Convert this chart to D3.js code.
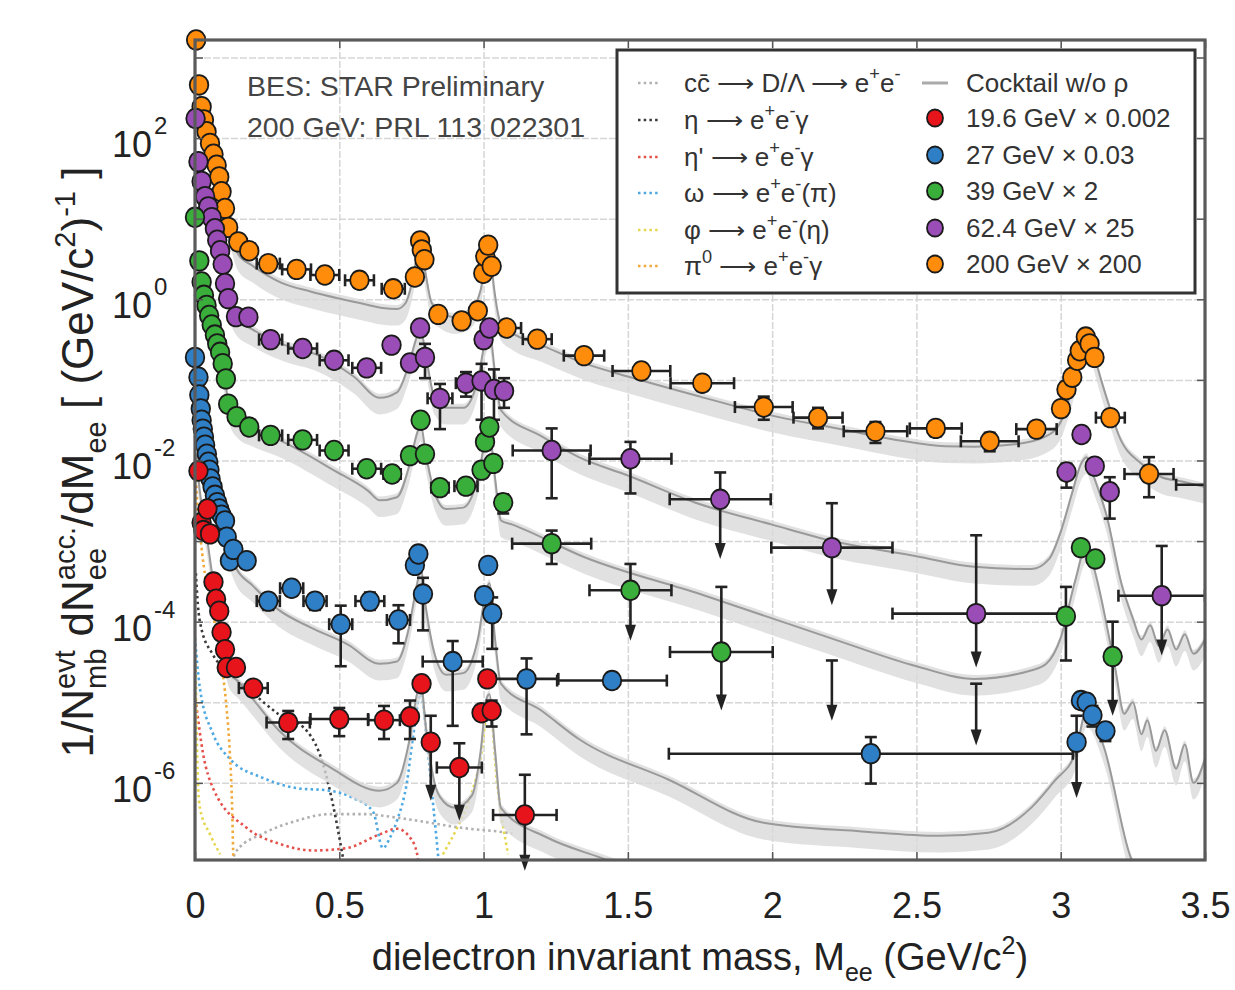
<!DOCTYPE html>
<html><head><meta charset="utf-8">
<script src="https://cdn.jsdelivr.net/npm/d3@7"></script>
<style>
body{margin:0;background:#fff}
svg text{font-family:"Liberation Sans",Arial,Helvetica,sans-serif}
</style>
</head><body>
<svg id="c" width="1235" height="990"></svg>
<script>
// ---------------- DATA ----------------
const xTicks = [0,0.5,1,1.5,2,2.5,3,3.5];
const xTickLabels = ["0","0.5","1","1.5","2","2.5","3","3.5"];
const yTickExp = [2,0,-2,-4,-6];
const yGridExp = [3,2,1,0,-1,-2,-3,-4,-5,-6];

// rows: [M, value, xErr, low, high, upperLimit]
const s200 = [
[0.004,1650],[0.014,457],[0.023,245],[0.031,168],[0.040,120],[0.052,86],[0.064,63],[0.075,46],[0.084,33],[0.092,21.6],[0.104,13.4],[0.115,7.8],[0.150,5.15],[0.188,4.0],
[0.254,2.77,0.04,2.5,3.05],[0.352,2.35,0.05,2.1,2.6],[0.450,2.0,0.05,1.8,2.2],[0.570,1.72,0.05,1.55,1.9],[0.687,1.35,0.04,1.2,1.5],
[0.762,1.89],[0.780,5.3],[0.786,4.1],[0.795,3.1],[0.843,0.65,0.02],[0.924,0.54,0.02],[0.980,0.72],
[0.999,2.1],[1.006,3.4],[1.016,4.7],[1.028,2.57],
[1.080,0.44,0.05,0.40,0.49],[1.186,0.32,0.05,0.29,0.35],[1.348,0.20,0.07,0.18,0.22],[1.547,0.129,0.10,0.115,0.145],
[1.758,0.091,0.11,0.08,0.10],[1.971,0.046,0.10,0.032,0.062],[2.159,0.034,0.085,0.025,0.045],[2.358,0.023,0.11,0.0165,0.030],
[2.567,0.025,0.09,0.020,0.030],[2.754,0.0173,0.10,0.013,0.022],[2.916,0.0245,0.07,0.021,0.028],
[3.001,0.044],[3.020,0.076],[3.040,0.108],[3.057,0.175],[3.066,0.23],[3.087,0.34],[3.100,0.28],[3.117,0.19],
[3.172,0.034,0.05],[3.306,0.0068,0.085,0.0035,0.011],[3.55,0.005,0.15]
];
const s62 = [
[0.002,175],[0.012,51],[0.023,29],[0.035,18.8],[0.046,14],[0.058,10.3],[0.069,7.5],[0.077,5.4],[0.087,4.0],[0.096,2.72],[0.104,1.57],[0.115,1.02],[0.142,0.61],[0.185,0.60],
[0.262,0.316,0.04,0.29,0.345],[0.373,0.245,0.05,0.22,0.27],[0.482,0.175,0.05,0.155,0.195],[0.595,0.141,0.05,0.125,0.16],
[0.681,0.27],[0.745,0.162,0.02,0.14,0.18],[0.780,0.44],[0.797,0.19,0,0.105,0.28],
[0.849,0.059,0.043,0.0245,0.089],[0.939,0.091,0.035,0.062,0.125],[0.993,0.097,0,0.032,0.158],
[1.000,0.316],[1.020,0.44],[1.036,0.076,0,0.032,0.135],[1.071,0.073,0,0.045,0.105],
[1.236,0.0133,0.135,0.0034,0.025],[1.509,0.0105,0.142,0.0039,0.017],
[1.820,0.0033,0.175,6e-4,0.0071,1],[2.207,8.3e-4,0.21,1.6e-4,0.00295,1],[2.707,1.26e-4,0.29,2.7e-5,0.00118,1],
[3.020,0.0072,0,0.0046,0.0091],[3.072,0.021],[3.118,0.0085],[3.170,0.0041,0,0.0019,0.0062],
[3.350,2.1e-4,0.15,3.8e-5,8.7e-4,1]
];
const s39 = [
[0.000,10.4],[0.015,3.0],[0.023,1.64],[0.031,1.12],[0.040,0.84],[0.049,0.63],[0.058,0.48],[0.069,0.36],[0.077,0.28],[0.087,0.22],[0.096,0.159],[0.107,0.103],[0.115,0.050],[0.144,0.035],[0.188,0.026],
[0.262,0.0205,0.04],[0.373,0.018,0.05],[0.482,0.0133,0.05],[0.595,0.0079,0.05,0.0068,0.0092],[0.683,0.0068,0.03,0.0055,0.0082],
[0.745,0.0115],[0.782,0.0316],[0.797,0.012,0,0.0095,0.015],[0.849,0.0046,0.03],[0.939,0.0048,0.04],
[0.993,0.0076],[1.005,0.017],[1.020,0.026],[1.034,0.0092],[1.068,0.0030,0,0.0022,0.0038],
[1.236,9.3e-4,0.137,5.2e-4,1.35e-3],[1.509,2.45e-4,0.142,5.8e-5,5.2e-4,1],[1.824,4.2e-5,0.178,7.9e-6,2.7e-4,1],
[2.207,null,0,5.9e-6,3.3e-5,1],[2.707,null,0,2.9e-6,1.7e-5,1],
[3.018,1.17e-4,0,3.3e-5,2.7e-4],[3.070,8.3e-4],[3.120,6.0e-4],[3.180,3.7e-5,0,6.8e-6,1.0e-4,1]
];
const s27 = [
[0.000,0.19],[0.012,0.108],[0.015,0.065],[0.020,0.0437],[0.023,0.0316],[0.027,0.0245],[0.031,0.0195],[0.035,0.0155],[0.041,0.012],[0.046,0.0095],[0.050,0.0076],[0.054,0.0059],[0.061,0.0047],[0.069,0.0037],[0.077,0.0030],[0.084,0.0025],[0.092,0.0021],[0.104,0.00178],[0.110,0.00112],[0.121,5.7e-4],[0.133,7.9e-4],[0.179,5.7e-4,0.02],
[0.254,1.8e-4,0.04,1.4e-4,2.2e-4],[0.335,2.6e-4,0.04,2.1e-4,3.1e-4],[0.416,1.8e-4,0.04,1.4e-4,2.2e-4],[0.505,9.3e-5,0.04,2.8e-5,1.58e-4],
[0.606,1.8e-4,0.05,1.4e-4,2.3e-4],[0.705,1.05e-4,0.04,5.4e-5,1.6e-4],[0.762,5.0e-4],[0.774,6.9e-4],[0.790,2.2e-4,0,7.8e-5,3.5e-4],
[0.893,3.2e-5,0.104,5.1e-6,5.75e-5],[1.002,2.1e-4],[1.016,5.0e-4],[1.030,1.26e-4,0,4.6e-5,2.0e-4],
[1.149,1.95e-5,0.11,4.0e-6,3.5e-5],[1.445,1.86e-5,0.19,1.5e-5,2.3e-5],[2.342,2.3e-6,0.70,9.8e-7,3.7e-6],
[3.055,3.2e-6,0,6.5e-7,6.8e-6,1],[3.070,1.05e-5],[3.090,1.0e-5],[3.110,6.9e-6,0,5e-6,9e-6],[3.155,4.4e-6,0,3.3e-6,5.5e-6]
];
const s19 = [
[0.012,0.0074],[0.023,0.0017],[0.029,0.00135],[0.043,0.0025],[0.052,0.00123],[0.064,3.1e-4],[0.073,1.9e-4],[0.084,1.35e-4],[0.092,7.4e-5],[0.104,4.5e-5],[0.110,2.7e-5],[0.142,2.7e-5],
[0.202,1.5e-5,0.05,1.3e-5,1.7e-5],[0.323,5.6e-6,0.075,3.5e-6,7.8e-6],[0.500,6.2e-6,0.10,3.8e-6,8.5e-6],[0.655,6.0e-6,0.055,3.5e-6,9.0e-6],
[0.745,6.6e-6,0,3.5e-6,1.05e-5],[0.785,1.7e-5],[0.817,3.2e-6,0,6e-7,6.8e-6,1],[0.916,1.55e-6,0.078,3.4e-7,3.1e-6,1],
[0.993,7.4e-6],[1.013,1.95e-5],[1.028,7.9e-6,0,5e-6,1.05e-5],[1.143,4e-7,0.11,8.1e-8,1.26e-6,1]
];

// cocktails (w/o rho), one per energy: [M, value]
const cock200 = [[0.01,500],[0.03,150],[0.05,75],[0.08,33],[0.10,17],[0.12,8],[0.15,3.6],[0.20,2.6],[0.30,1.6],[0.40,1.25],[0.50,1.02],[0.60,0.85],[0.65,0.78],[0.70,0.76],[0.73,0.9],[0.75,1.5],[0.77,3.5],[0.782,5.0],[0.80,2.0],[0.82,0.9],[0.85,0.7],[0.90,0.6],[0.95,0.68],[0.99,1.3],[1.01,4.0],[1.02,4.8],[1.035,1.5],[1.06,0.5],[1.10,0.38],[1.20,0.27],[1.35,0.16],[1.50,0.11],[1.75,0.062],[2.00,0.036],[2.25,0.024],[2.43,0.018],[2.60,0.015],[2.70,0.0148],[2.85,0.016],[2.95,0.02],[3.00,0.03],[3.03,0.06],[3.06,0.15],[3.09,0.34],[3.10,0.33],[3.12,0.18],[3.14,0.10],[3.17,0.045],[3.20,0.021],[3.28,0.0091],[3.35,0.0062],[3.42,0.0055],[3.50,0.0047]];
const cock62 = [[0.01,50],[0.03,17],[0.05,10],[0.08,4.2],[0.10,2.0],[0.12,0.9],[0.14,0.6],[0.20,0.42],[0.30,0.28],[0.43,0.20],[0.55,0.11],[0.64,0.06],[0.70,0.07],[0.74,0.15],[0.77,0.35],[0.782,0.42],[0.80,0.2],[0.83,0.06],[0.87,0.045],[0.93,0.045],[0.98,0.1],[1.01,0.35],[1.02,0.4],[1.04,0.12],[1.06,0.042],[1.20,0.02],[1.33,0.011],[1.50,0.0065],[1.745,0.0029],[2.00,0.0016],[2.21,0.001],[2.50,6.5e-4],[2.70,4.8e-4],[2.90,4.5e-4],[2.96,6e-4],[3.00,1.3e-3],[3.04,4e-3],[3.07,0.009],[3.09,0.011],[3.11,0.007],[3.16,0.002],[3.21,3e-4],[3.25,1.1e-4],[3.28,6e-5],[3.31,9e-5],[3.34,5e-5],[3.37,8e-5],[3.40,4.5e-5],[3.43,7e-5],[3.46,4e-5],[3.50,6e-5]];
const cock39 = [[0.01,3.0],[0.03,1.1],[0.05,0.6],[0.08,0.25],[0.10,0.12],[0.12,0.045],[0.15,0.03],[0.20,0.024],[0.29,0.018],[0.48,0.0076],[0.60,0.0042],[0.64,0.0032],[0.70,0.0035],[0.74,0.008],[0.77,0.022],[0.782,0.028],[0.80,0.012],[0.83,0.004],[0.87,0.0025],[0.93,0.0026],[0.98,0.006],[1.01,0.02],[1.02,0.022],[1.04,0.006],[1.06,0.0018],[1.10,0.0016],[1.35,6.3e-4],[1.75,2.2e-4],[2.20,6.3e-5],[2.50,2.8e-5],[2.70,1.95e-5],[2.90,2.5e-5],[2.95,3e-5],[3.00,6.3e-5],[3.05,3.2e-4],[3.09,8.9e-4],[3.12,4e-4],[3.19,2.5e-5],[3.22,7.2e-6],[3.25,1e-5],[3.28,4e-6],[3.30,6e-6],[3.33,2.5e-6],[3.36,4.5e-6],[3.40,1.5e-6],[3.43,3e-6],[3.46,1e-6],[3.50,2e-6]];
const cock27 = [[0.005,0.15],[0.01,0.1],[0.02,0.045],[0.04,0.013],[0.06,0.005],[0.08,0.0026],[0.10,0.0013],[0.12,7.5e-4],[0.14,4.8e-4],[0.20,2.8e-4],[0.29,1.4e-4],[0.40,8.5e-5],[0.53,5.2e-5],[0.64,3e-5],[0.70,3.2e-5],[0.74,8e-5],[0.77,3e-4],[0.782,4.5e-4],[0.80,1.5e-4],[0.83,4e-5],[0.87,2.2e-5],[0.93,2.3e-5],[0.98,6e-5],[1.01,2.5e-4],[1.02,3e-4],[1.04,6e-5],[1.06,1.7e-5],[1.20,7.9e-6],[1.33,3.5e-6],[1.64,1.1e-6],[1.97,3.2e-7],[2.31,2.5e-7],[2.58,2.2e-7],[2.75,2.4e-7],[2.90,5e-7],[2.98,1.07e-6],[3.05,2.3e-6],[3.09,7.9e-6],[3.15,2.75e-6],[3.24,1.26e-7],[3.30,5e-8]];
const cock19 = [[0.005,0.012],[0.012,0.006],[0.025,0.0025],[0.04,0.0012],[0.055,5e-4],[0.065,2.8e-4],[0.08,1.2e-4],[0.10,4.5e-5],[0.115,2.6e-5],[0.13,2.1e-5],[0.15,1.8e-5],[0.20,1.1e-5],[0.29,4.5e-6],[0.47,1.55e-6],[0.64,8e-7],[0.70,1e-6],[0.74,3e-6],[0.77,1.3e-5],[0.782,1.8e-5],[0.80,5e-6],[0.83,1e-6],[0.85,6.6e-7],[0.90,4.9e-7],[0.96,7e-7],[0.99,2.5e-6],[1.01,1.1e-5],[1.02,1.26e-5],[1.04,2.5e-6],[1.06,4.9e-7],[1.22,2.1e-7],[1.40,1.2e-7],[1.50,9e-8]];
const bandLow = 0.62, bandHigh = 1.12;

// cocktail components (19.6 GeV x 0.002)
const compCC = [[0.12,9e-8],[0.145,1.45e-7],[0.236,2.35e-7],[0.353,3.4e-7],[0.468,4.1e-7],[0.582,4.1e-7],[0.70,3.7e-7],[0.814,3.2e-7],[0.93,2.75e-7],[1.046,2.5e-7],[1.10,2.35e-7]];
const compEta = [[0.003,4e-4],[0.01,1.6e-4],[0.02,8.9e-5],[0.06,4e-5],[0.10,2.6e-5],[0.18,1.5e-5],[0.29,7.1e-6],[0.388,4.4e-6],[0.444,1.7e-6],[0.478,5.4e-7],[0.509,1.4e-7],[0.53,5e-8]];
const compEtaP = [[0.002,1.1e-5],[0.028,2.3e-6],[0.062,8.7e-7],[0.18,2.75e-7],[0.295,1.74e-7],[0.41,1.45e-7],[0.525,1.55e-7],[0.64,2.3e-7],[0.70,2.7e-7],[0.745,2.1e-7],[0.77,1.3e-7],[0.78,5e-8]];
const compOmega = [[0.0,6.3e-5],[0.017,1.5e-5],[0.062,4.1e-6],[0.12,2e-6],[0.236,1.15e-6],[0.353,8.6e-7],[0.468,8e-7],[0.548,6.5e-7],[0.617,4.4e-7],[0.651,1.55e-7],[0.676,2.1e-7],[0.70,3.4e-7],[0.735,1.05e-6],[0.755,3.6e-6],[0.782,1.26e-5],[0.808,2.3e-6],[0.825,5.5e-7],[0.842,1.3e-7],[0.85,6e-8]];
const compPhi = [[0.002,3e-5],[0.01,1.05e-6],[0.017,4.9e-7],[0.052,2.3e-7],[0.087,1.3e-7],[0.10,null],[0.859,1.3e-7],[0.908,2.75e-7],[0.953,6.5e-7],[0.988,1.86e-6],[1.02,1e-5],[1.046,1.05e-6],[1.085,1.3e-7]];
const compPi0 = [[0.003,0.008],[0.01,0.002],[0.02,1e-3],[0.03,5e-4],[0.05,2e-4],[0.07,9e-5],[0.085,4.5e-5],[0.097,2.2e-5],[0.11,8e-6],[0.121,2.3e-6],[0.128,6e-7],[0.133,1e-7]];

const seriesNames = ["19.6 GeV × 0.002","27 GeV × 0.03","39 GeV × 2","62.4 GeV × 25","200 GeV × 200"];
const seriesColors = ["#e8141c","#2f7fc6","#3aae3a","#9a4db6","#ff8c0a"];

// ---------------- CHART ----------------
const svg = d3.select('#c');
const X0=195, X1=1205, Y0=40, Y1=860;
const x = d3.scaleLinear().domain([0,3.5]).range([X0,X1]);
const y = d3.scaleLog().domain([Math.pow(10,-6.957), Math.pow(10,3.217)]).range([Y1,Y0]);

const defs = svg.append('defs');
defs.append('clipPath').attr('id','plot').append('rect').attr('x',X0).attr('y',Y0).attr('width',X1-X0).attr('height',Y1-Y0);
defs.append('clipPath').attr('id','dat').append('rect').attr('x',X0-15).attr('y',Y0-15).attr('width',X1-X0+15).attr('height',Y1-Y0+45);

// grid
const gridG = svg.append('g');
gridG.append('g').attr('transform',`translate(0,${Y1})`)
  .call(d3.axisBottom(x).tickValues(xTicks).tickSize(-(Y1-Y0)).tickFormat(''))
  .call(g=>{g.select('.domain').remove(); g.selectAll('line').attr('stroke','#d6d6d6').attr('stroke-width',1.5).attr('stroke-dasharray','7,2');});
gridG.append('g').attr('transform',`translate(${X0},0)`)
  .call(d3.axisLeft(y).tickValues(yGridExp.map(e=>Math.pow(10,e))).tickSize(-(X1-X0)).tickFormat(''))
  .call(g=>{g.select('.domain').remove(); g.selectAll('line').attr('stroke','#d6d6d6').attr('stroke-width',1.5).attr('stroke-dasharray','7,2');});

// cocktail bands and lines
const cockG = svg.append('g').attr('clip-path','url(#plot)');
const area = d3.area().x(d=>x(d[0])).y0(d=>y(d[1]*bandLow)).y1(d=>y(d[1]*bandHigh)).curve(d3.curveMonotoneX);
const line = d3.line().x(d=>x(d[0])).y(d=>y(d[1])).curve(d3.curveMonotoneX);
const compLine = d3.line().defined(d=>d[1]!=null).x(d=>x(d[0])).y(d=>y(d[1])).curve(d3.curveMonotoneX);
const comps = [[compCC,'#b0b0b0'],[compEta,'#3a3a3a'],[compEtaP,'#e4504a'],[compOmega,'#4ea9e2'],[compPhi,'#e6d84e'],[compPi0,'#f2a93a']];
// components drawn beneath the bands
comps.forEach(([c,col])=>{
  cockG.append('path').datum(c).attr('d',compLine).attr('fill','none').attr('stroke',col)
    .attr('stroke-width',2.6).attr('stroke-dasharray','2.5,3.2');
});
[cock200,cock62,cock39,cock27,cock19].forEach(c=>{
  cockG.append('path').datum(c).attr('d',area).attr('fill','#d9d9d9').attr('opacity',0.8);
});
[cock200,cock62,cock39,cock27,cock19].forEach(c=>{
  cockG.append('path').datum(c).attr('d',line).attr('fill','none').attr('stroke','#9a9a9a').attr('stroke-width',2);
});

// data
const dataG = svg.append('g').attr('clip-path','url(#dat)');
const EC='#222', CAP=6;
function drawSeries(data,color){
  const g = dataG.append('g');
  data.forEach(d=>{
    const [m,v,xe,lo,hi,ul] = d;
    const cx = x(m);
    if(v!=null && xe>0){
      const cy=y(v), xa=x(m-xe), xb=x(m+xe);
      g.append('line').attr('x1',xa).attr('x2',xb).attr('y1',cy).attr('y2',cy).attr('stroke',EC).attr('stroke-width',2.6);
      [xa,xb].forEach(xx=>g.append('line').attr('x1',xx).attr('x2',xx).attr('y1',cy-CAP).attr('y2',cy+CAP).attr('stroke',EC).attr('stroke-width',2.6));
    }
    if(lo!=null||hi!=null){
      const yt = y(hi!=null?hi:v), yb = y(lo!=null?lo:v);
      const yEnd = ul? yb-12 : yb;
      g.append('line').attr('x1',cx).attr('x2',cx).attr('y1',yt).attr('y2',yEnd).attr('stroke',EC).attr('stroke-width',2.6);
      if(hi!=null) g.append('line').attr('x1',cx-CAP).attr('x2',cx+CAP).attr('y1',yt).attr('y2',yt).attr('stroke',EC).attr('stroke-width',2.6);
      if(lo!=null && !ul) g.append('line').attr('x1',cx-CAP).attr('x2',cx+CAP).attr('y1',yb).attr('y2',yb).attr('stroke',EC).attr('stroke-width',2.6);
      if(ul) g.append('path').attr('d',`M${cx-5.5},${yb-16}L${cx+5.5},${yb-16}L${cx},${yb}Z`).attr('fill',EC);
    }
  });
  data.filter(d=>d[1]!=null).forEach(d=>{
    g.append('ellipse').attr('cx',x(d[0])).attr('cy',y(d[1])).attr('rx',9.3).attr('ry',9.8)
      .attr('fill',color).attr('stroke','#1a1a1a').attr('stroke-width',1.8);
  });
}
drawSeries(s200,seriesColors[4]);
drawSeries(s62,seriesColors[3]);
drawSeries(s39,seriesColors[2]);
drawSeries(s27,seriesColors[1]);
drawSeries(s19,seriesColors[0]);

// frame & ticks
const axG = svg.append('g');
const styleAx = g=>{g.select('.domain').remove(); g.selectAll('.tick line').attr('stroke','#555').attr('stroke-width',1.5);};
axG.append('g').attr('transform',`translate(0,${Y1})`)
  .call(d3.axisBottom(x).tickValues(xTicks).tickSizeInner(-8).tickSizeOuter(0).tickPadding(32).tickFormat((d,i)=>xTickLabels[i]))
  .call(styleAx)
  .call(g=>g.selectAll('text').attr('font-size',36).attr('fill','#222').attr('font-family','"Liberation Sans",Arial,sans-serif'));
axG.append('g').attr('transform',`translate(0,${Y0})`)
  .call(d3.axisTop(x).tickValues(xTicks).tickSizeInner(-8).tickSizeOuter(0).tickFormat('')).call(styleAx);
axG.append('g').attr('transform',`translate(${X0},0)`)
  .call(d3.axisLeft(y).tickValues(yGridExp.map(e=>Math.pow(10,e))).tickSizeInner(-8).tickSizeOuter(0).tickFormat('')).call(styleAx);
axG.append('g').attr('transform',`translate(${X1},0)`)
  .call(d3.axisRight(y).tickValues(yGridExp.map(e=>Math.pow(10,e))).tickSizeInner(-8).tickSizeOuter(0).tickFormat('')).call(styleAx);
axG.append('rect').attr('x',X0).attr('y',Y0).attr('width',X1-X0).attr('height',Y1-Y0)
  .attr('fill','none').attr('stroke','#5a5a5a').attr('stroke-width',3.2);

// y tick labels 10^n
yTickExp.forEach(e=>{
  const yy = y(Math.pow(10,e));
  axG.append('text').attr('x',152).attr('y',yy+19).attr('text-anchor','end').attr('font-size',36).attr('fill','#222').text('10');
  axG.append('text').attr('x',154).attr('y',yy-4).attr('font-size',24).attr('fill','#222').text(String(e));
});

// rich text helper
function rich(parent, parts, fs, color){
  const g = parent.append('g').attr('fill',color||'#222');
  let cx=0;
  parts.forEach(p=>{
    if(p.up!==undefined){
      const a=g.append('text').attr('x',cx).attr('y',-fs*0.42).attr('font-size',fs*0.66).style('white-space','pre').text(p.up);
      const b=g.append('text').attr('x',cx).attr('y',fs*0.3).attr('font-size',fs*0.66).style('white-space','pre').text(p.dn);
      cx+=Math.max(a.node().getComputedTextLength(),b.node().getComputedTextLength());
    } else {
      const t=g.append('text').attr('x',cx).attr('y',(p.dy||0)*fs).attr('font-size',fs*(p.s||1)).style('white-space','pre').text(p.t);
      cx+=t.node().getComputedTextLength()+(p.gap||0);
    }
  });
  return {g,w:cx};
}

// axis titles
const xt = rich(svg,[{t:'dielectron invariant mass, M'},{t:'ee',s:0.66,dy:0.3},{t:' (GeV/c'},{t:'2',s:0.66,dy:-0.42},{t:')'}],38,'#222');
xt.g.attr('transform',`translate(${700-xt.w/2},970)`);
const yt = rich(svg,[{t:'1/N'},{up:'evt',dn:'mb'},{t:' dN'},{up:'acc.',dn:'ee'},{t:'/dM'},{t:'ee',s:0.66,dy:0.3},{t:' [ (GeV/c'},{t:'2',s:0.66,dy:-0.42},{t:')'},{t:'-1',s:0.66,dy:-0.42},{t:' ]'}],44,'#222');
yt.g.attr('transform',`translate(93,${462+yt.w/2}) rotate(-90)`);

// annotation
svg.append('text').attr('x',247).attr('y',96).attr('font-size',28.5).attr('fill','#444').text('BES: STAR Preliminary');
svg.append('text').attr('x',247).attr('y',137).attr('font-size',28.5).attr('fill','#444').text('200 GeV: PRL 113 022301');

// legend
const lg = svg.append('g');
lg.append('rect').attr('x',617).attr('y',50).attr('width',578).attr('height',243).attr('fill','#fff').attr('stroke','#333').attr('stroke-width',3);
const rowY = [83,120,157,193,230,266];
const LF = 26;
const compLabels = [
  [{t:'cc̄ ⟶ D/Λ ⟶ e'},{t:'+',s:0.7,dy:-0.45},{t:'e'},{t:'-',s:0.7,dy:-0.45}],
  [{t:'η ⟶ e'},{t:'+',s:0.7,dy:-0.45},{t:'e'},{t:'-',s:0.7,dy:-0.45},{t:'γ'}],
  [{t:"η' ⟶ e"},{t:'+',s:0.7,dy:-0.45},{t:'e'},{t:'-',s:0.7,dy:-0.45},{t:'γ'}],
  [{t:'ω ⟶ e'},{t:'+',s:0.7,dy:-0.45},{t:'e'},{t:'-',s:0.7,dy:-0.45},{t:'(π)'}],
  [{t:'φ ⟶ e'},{t:'+',s:0.7,dy:-0.45},{t:'e'},{t:'-',s:0.7,dy:-0.45},{t:'(η)'}],
  [{t:'π'},{t:'0',s:0.7,dy:-0.45},{t:' ⟶ e'},{t:'+',s:0.7,dy:-0.45},{t:'e'},{t:'-',s:0.7,dy:-0.45},{t:'γ'}]
];
comps.forEach(([c,col],i)=>{
  lg.append('line').attr('x1',638).attr('x2',660).attr('y1',rowY[i]).attr('y2',rowY[i]).attr('stroke',col).attr('stroke-width',2.6).attr('stroke-dasharray','2.5,3.2');
  const r = rich(lg, compLabels[i], LF, '#333');
  r.g.attr('transform',`translate(684,${rowY[i]+9})`);
});
lg.append('line').attr('x1',922).attr('x2',948).attr('y1',rowY[0]).attr('y2',rowY[0]).attr('stroke','#aaa').attr('stroke-width',3);
lg.append('text').attr('x',966).attr('y',rowY[0]+9).attr('font-size',LF).attr('fill','#333').text('Cocktail w/o ρ');
seriesNames.forEach((n,i)=>{
  const yy = rowY[i+1]-2;
  lg.append('ellipse').attr('cx',935).attr('cy',yy).attr('rx',8).attr('ry',8.5).attr('fill',seriesColors[i]).attr('stroke','#1a1a1a').attr('stroke-width',1.8);
  lg.append('text').attr('x',966).attr('y',yy+9).attr('font-size',LF).attr('fill','#333').text(n);
});
</script>
</body></html>
